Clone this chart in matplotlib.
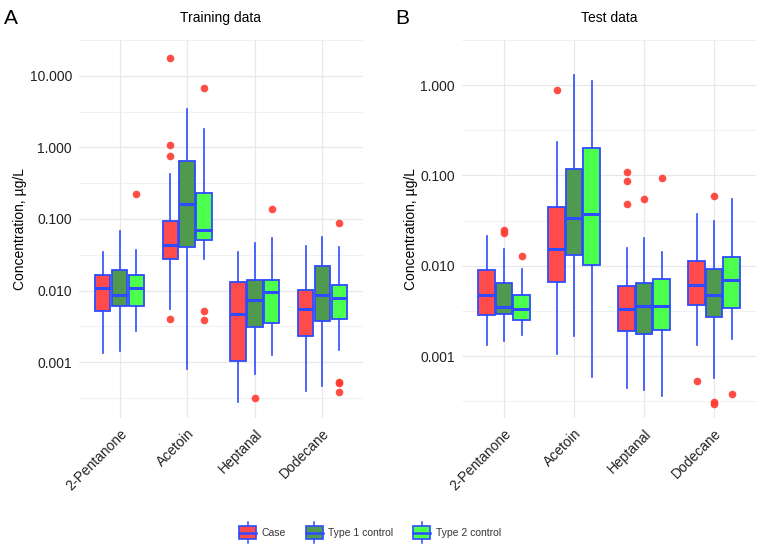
import matplotlib

matplotlib.use("Agg")
import matplotlib.pyplot as plt
import matplotlib.transforms as mtransforms
import numpy as np
from matplotlib.legend_handler import HandlerBase
from matplotlib.lines import Line2D
from matplotlib.patches import Patch, Rectangle

plt.rcParams["font.family"] = ["Liberation Sans", "DejaVu Sans"]

compounds = ["2-Pentanone", "Acetoin", "Heptanal", "Dodecane"]
groups = ["Case", "Type 1 control", "Type 2 control"]

# training data, per compound: [Case, Type 1, Type 2]
train_lo = [[0.00133, 0.00145, 0.00275], [0.0056, 0.00081, 0.0278],
            [0.000278, 0.00068, 0.00125], [0.0004, 0.00046, 0.00148]]
train_q1 = [[0.0052, 0.0060, 0.0061], [0.0275, 0.040, 0.0505],
            [0.00104, 0.0031, 0.0035], [0.0023, 0.0038, 0.0040]]
train_med = [[0.0108, 0.0086, 0.0107], [0.044, 0.163, 0.071],
             [0.0047, 0.0073, 0.0096], [0.0056, 0.0086, 0.0079]]
train_q3 = [[0.0167, 0.0191, 0.0167], [0.0946, 0.64, 0.227],
            [0.0130, 0.0142, 0.0139], [0.0102, 0.0222, 0.0119]]
train_hi = [[0.0344, 0.0673, 0.037], [0.43, 3.43, 1.79],
            [0.0344, 0.0464, 0.055], [0.0426, 0.0568, 0.0403]]
train_out = [[[], [], [0.222]],
             [[17.5, 1.076, 0.763, 0.0040], [], [6.8, 0.00515, 0.0039]],
             [[], [0.00032], [0.136]],
             [[], [], [0.089, 0.00053, 0.00051, 0.00038]]]

# test data
test_lo = [[0.00133, 0.00147, 0.00173], [0.00106, 0.00169, 0.000586],
           [0.00044, 0.00042, 0.00036], [0.00134, 0.00057, 0.00155]]
test_q1 = [[0.00284, 0.0029, 0.00253], [0.0066, 0.0133, 0.0101],
           [0.00192, 0.00177, 0.00194], [0.0037, 0.00274, 0.00344]]
test_med = [[0.00472, 0.00349, 0.00333], [0.0152, 0.0341, 0.0379],
            [0.00333, 0.00361, 0.00361], [0.00616, 0.00472, 0.00689]]
test_q3 = [[0.009, 0.0064, 0.00475], [0.0453, 0.119, 0.2],
           [0.006, 0.0064, 0.00713], [0.0112, 0.0092, 0.0124]]
test_hi = [[0.0212, 0.0153, 0.0092], [0.235, 1.31, 1.12],
           [0.0156, 0.0205, 0.0144], [0.0379, 0.0313, 0.0553]]
test_out = [[[], [0.0249, 0.0230], [0.0128]],
            [[0.877], [], []],
            [[0.108, 0.0878, 0.0483], [0.0546], [0.0944]],
            [[0.000536], [0.0591, 0.000313, 0.000298], [0.000376]]]

fills = ["#FF4B4B", "#4F9A4F", "#4DFF4D"]
blue = "#2E4BFF"
dot = "#FF3B30"


def draw_panel(ax, lo, q1, med, q3, hi, out, ylim, yticks):
    offsets = [-0.25, 0.0, 0.25]
    for g in range(3):
        stats = []
        for c in range(len(compounds)):
            stats.append(dict(whislo=lo[c][g], q1=q1[c][g], med=med[c][g],
                              q3=q3[c][g], whishi=hi[c][g], fliers=out[c][g]))
        pos = [c + 1 + offsets[g] for c in range(len(compounds))]
        ax.bxp(stats, positions=pos, widths=0.23, patch_artist=True,
               showcaps=False, manage_ticks=False,
               boxprops=dict(facecolor=fills[g], edgecolor=blue, linewidth=1.3),
               whiskerprops=dict(color=blue, linewidth=1.2),
               medianprops=dict(color=blue, linewidth=2.2),
               flierprops=dict(marker="o", markerfacecolor=dot,
                               markeredgecolor="none", markersize=5.5, alpha=0.9),
               zorder=3)
    ax.set_yscale("log")
    ax.set_ylim(*ylim)
    ax.set_xlim(0.4, 4.6)
    ax.set_yticks(yticks)
    ax.set_yticklabels([f"{t:.3f}" for t in yticks])
    minors = [t * 10 ** 0.5 for t in [yticks[0] / 10] + list(yticks)]
    ax.set_yticks(minors, minor=True)
    ax.yaxis.set_minor_formatter(matplotlib.ticker.NullFormatter())
    ax.set_xticks(range(1, 5))
    ax.set_xticklabels(compounds, rotation=45, ha="right", va="top",
                       rotation_mode="anchor")
    shift = mtransforms.ScaledTranslation(4 / 100, 0, ax.figure.dpi_scale_trans)
    for lab in ax.get_xticklabels():
        lab.set_transform(lab.get_transform() + shift)
    ax.grid(True, which="major", color="#E8E8E8", linewidth=0.9, zorder=0)
    ax.grid(True, which="minor", axis="y", color="#EFEFEF", linewidth=0.6, zorder=0)
    ax.set_axisbelow(True)
    for s in ax.spines.values():
        s.set_visible(False)
    ax.tick_params(which="both", length=0, labelsize=10, labelcolor="#222222")
    ax.tick_params(axis="y", pad=5)
    ax.tick_params(axis="x", pad=6)
    ax.set_ylabel("Concentration, µg/L", fontsize=10, labelpad=2)


fig = plt.figure(figsize=(7.57, 5.44), dpi=100)
W, H = 757, 544
ax1 = fig.add_axes([79 / W, 1 - 418 / H, 284 / W, 378 / H])
ax2 = fig.add_axes([462 / W, 1 - 418 / H, 294 / W, 378 / H])

draw_panel(ax1, train_lo, train_q1, train_med, train_q3, train_hi, train_out,
           (10 ** -3.78, 10 ** 1.48), [0.001, 0.01, 0.1, 1, 10])
draw_panel(ax2, test_lo, test_q1, test_med, test_q3, test_hi, test_out,
           (10 ** -3.685, 10 ** 0.298), [0.001, 0.01, 0.1, 1])

fig.text(221 / W, 1 - 18 / H, "Training data", ha="center", va="center", fontsize=10)
fig.text(609 / W, 1 - 18 / H, "Test data", ha="center", va="center", fontsize=10)
fig.text(4 / W, 1 - 18 / H, "A", ha="left", va="center", fontsize=15)
fig.text(395 / W, 1 - 18 / H, "B", ha="left", va="center", fontsize=15)


class BoxHandler(HandlerBase):
    def create_artists(self, legend, orig_handle, xdescent, ydescent,
                       width, height, fontsize, trans):
        cx = -xdescent + width / 2
        bw = width
        bh = height * 1.3
        y0 = -ydescent + height / 2 - bh / 2
        rect = Rectangle((cx - bw / 2, y0), bw, bh,
                         facecolor=orig_handle.get_facecolor(),
                         edgecolor=blue, linewidth=1.2, transform=trans)
        med = Line2D([cx - bw / 2, cx + bw / 2], [y0 + bh / 2] * 2,
                     color=blue, linewidth=1.8, transform=trans)
        w1 = Line2D([cx, cx], [y0 + bh, y0 + bh + 3], color=blue,
                    linewidth=1.1, transform=trans)
        w2 = Line2D([cx, cx], [y0 - 3, y0], color=blue,
                    linewidth=1.1, transform=trans)
        return [rect, med, w1, w2]


handles = [Patch(facecolor=f) for f in fills]
fig.legend(handles, groups, loc="center", bbox_to_anchor=(370 / W, 1 - 533 / H),
           ncol=3, frameon=False, fontsize=7.5, handlelength=1.6,
           handleheight=1.0, handletextpad=0.55, columnspacing=1.9,
           labelcolor="#333333",
           handler_map={Patch: BoxHandler()})

fig.savefig("out.png", dpi=100)
